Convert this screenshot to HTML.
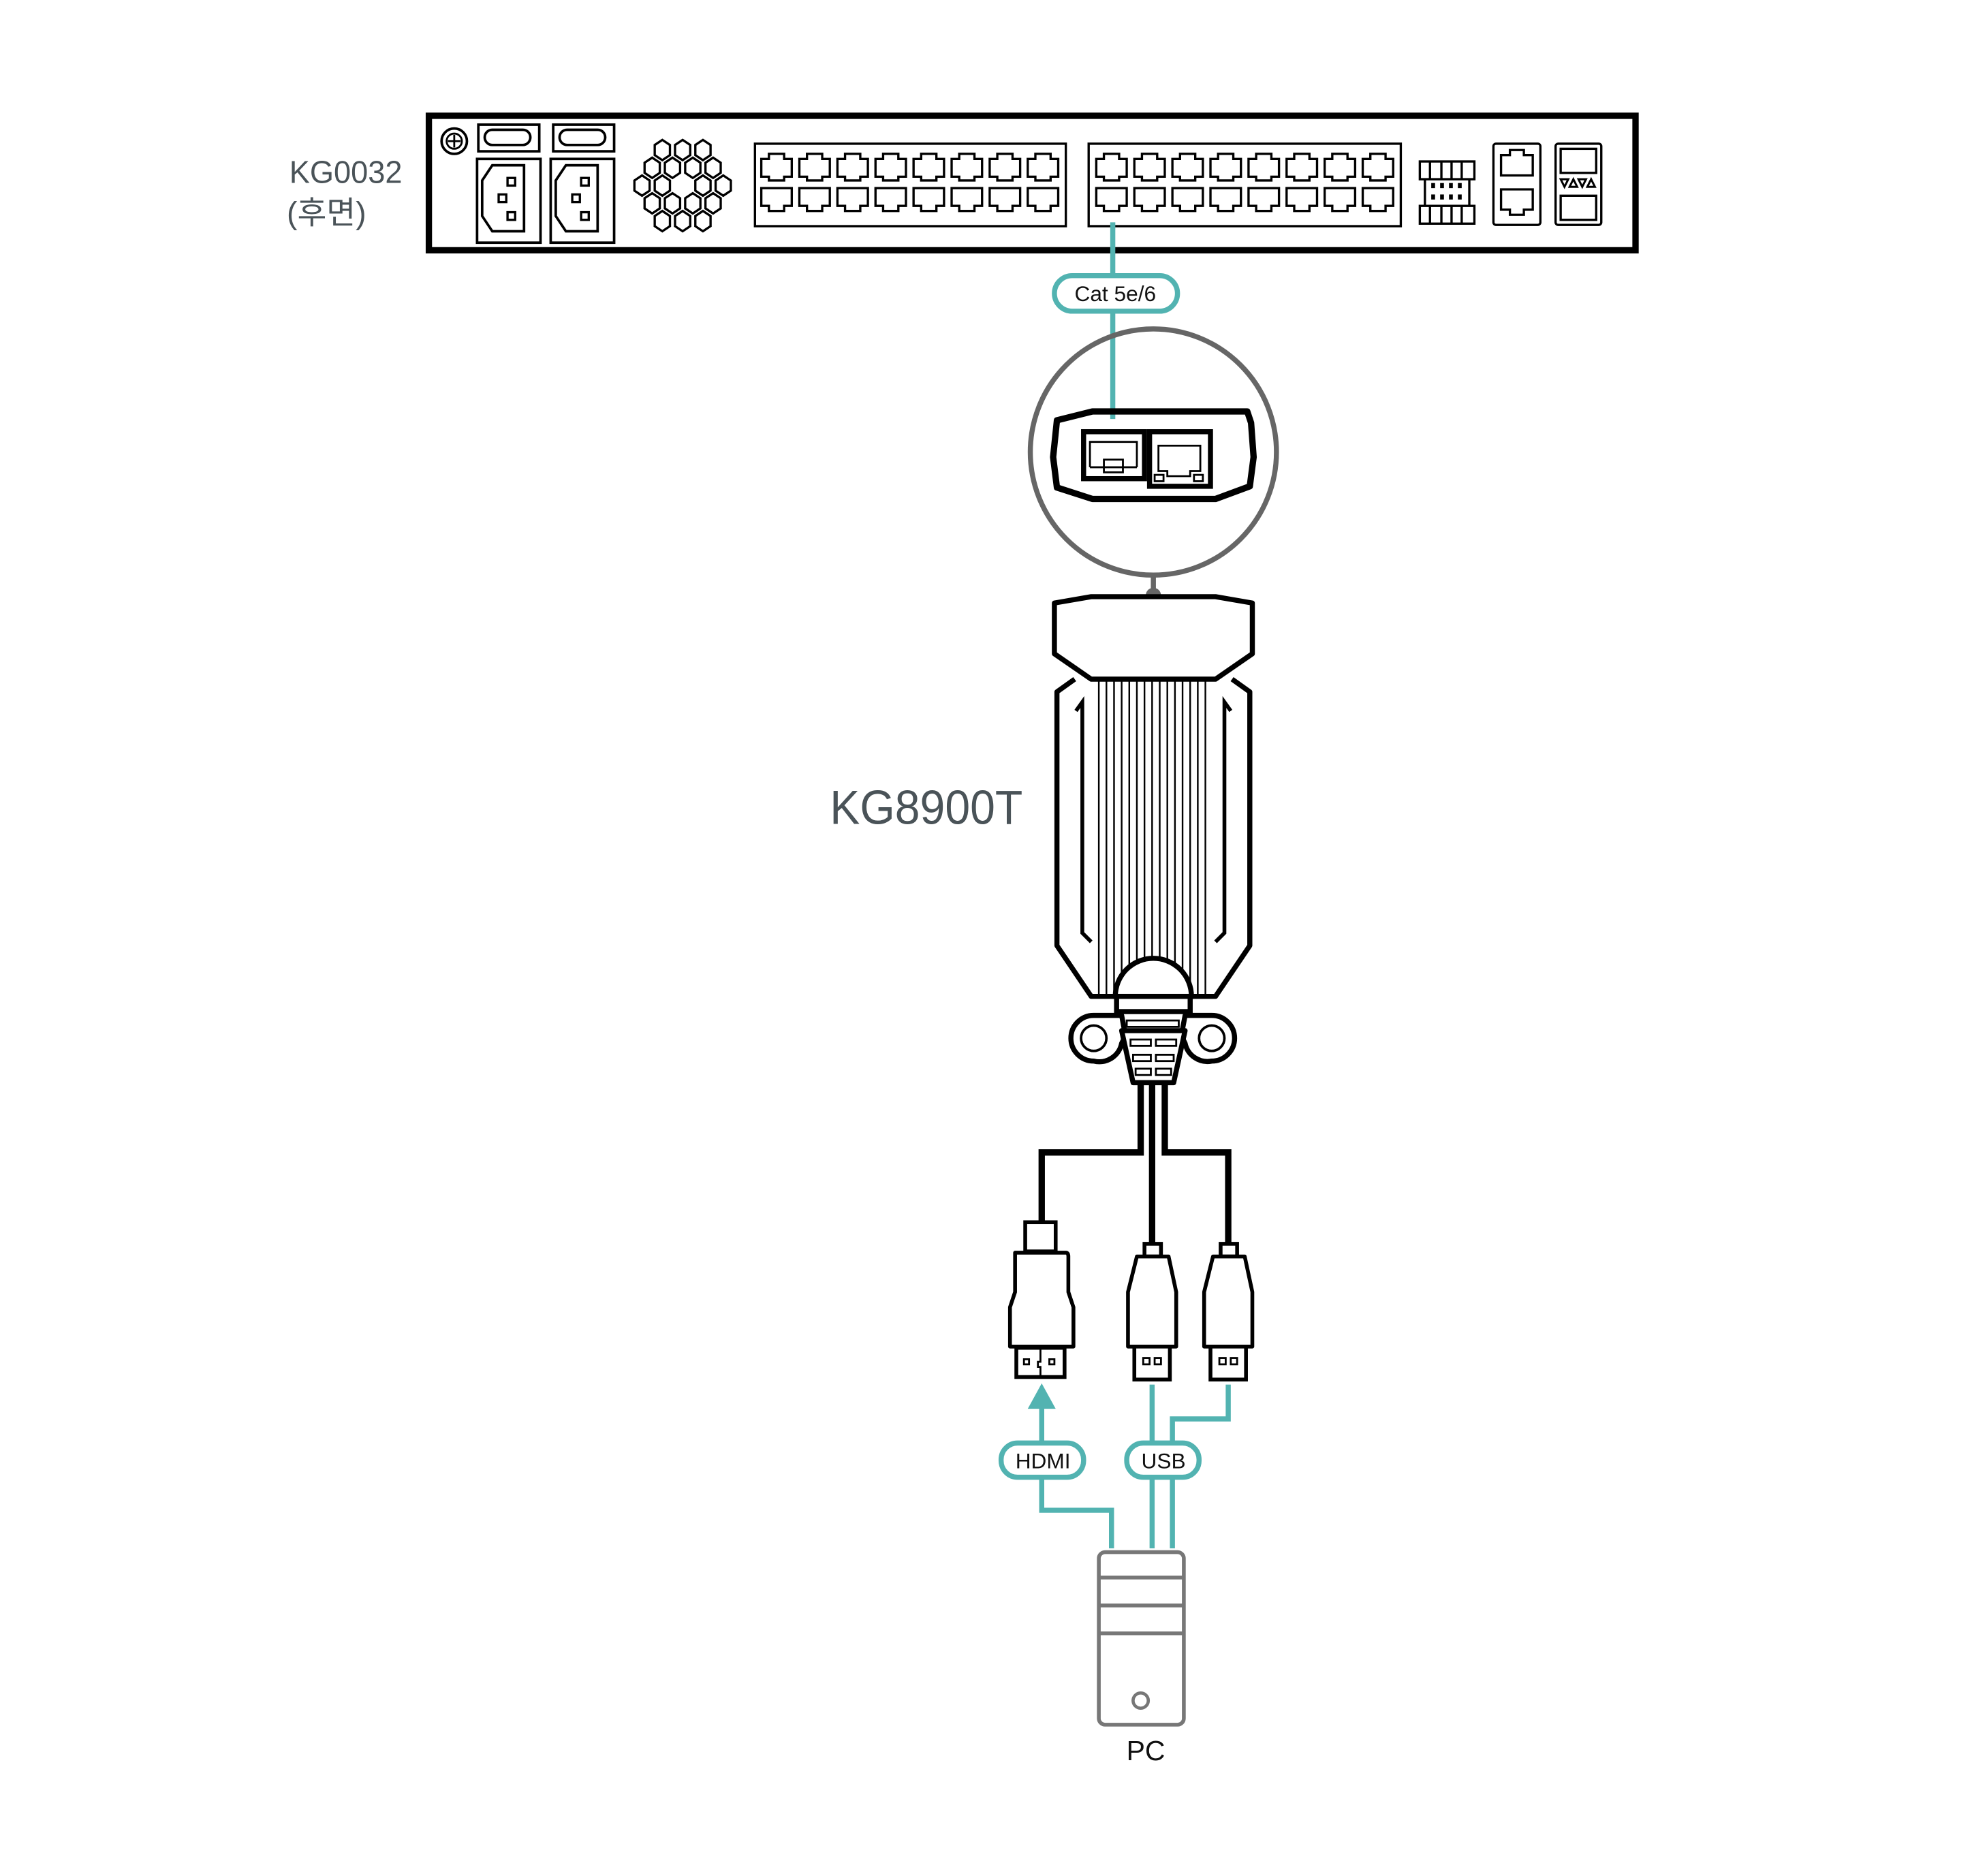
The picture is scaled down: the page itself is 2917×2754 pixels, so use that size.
<!DOCTYPE html>
<html><head><meta charset="utf-8"><style>
html,body{margin:0;padding:0;background:#fff;}
svg{display:block;}
text{font-family:"Liberation Sans","Noto Sans CJK KR",sans-serif;}
</style></head><body>
<svg width="2917" height="2754" viewBox="0 0 1566 1478" xmlns="http://www.w3.org/2000/svg">
<defs>
<path id="pt" d="M2 5 h6 v-4 h12 v4 h6 v14 h-6 v3 h-12 v-3 h-6 z" fill="none" stroke="#000" stroke-width="1.8"/>
<path id="pb" d="M2 1 h24 v14 h-6 v4 h-12 v-4 h-6 z" fill="none" stroke="#000" stroke-width="1.8"/>
<path id="hx" d="M0 -8 l6 4 v8 l-6 4 l-6 -4 v-8 z" fill="none" stroke="#000" stroke-width="1.8"/>
</defs>
<rect width="1566" height="1478" fill="#fff"/>
<!-- rack -->
<rect x="338" y="91" width="951" height="106" fill="#fff" stroke="#000" stroke-width="5"/>
<text x="228" y="144" font-size="25" fill="#4a5358" textLength="89" lengthAdjust="spacingAndGlyphs">KG0032</text>
<text x="226" y="176" font-size="25" fill="#4a5358">(후면)</text>
<circle cx="358" cy="111" r="10" fill="none" stroke="#000" stroke-width="2"/>
<circle cx="358" cy="111" r="6" fill="none" stroke="#000" stroke-width="1.5"/>
<path d="M358 106v10M353 111h10" stroke="#000" stroke-width="1.5"/>
<rect x="377" y="98" width="48" height="21" fill="none" stroke="#000" stroke-width="2"/>
<rect x="382" y="102" width="36" height="12" rx="6" fill="none" stroke="#000" stroke-width="2"/>
<rect x="436" y="98" width="48" height="21" fill="none" stroke="#000" stroke-width="2"/>
<rect x="441" y="102" width="36" height="12" rx="6" fill="none" stroke="#000" stroke-width="2"/>
<rect x="376" y="125" width="50" height="66" fill="none" stroke="#000" stroke-width="2"/>
<path d="M388 130h25v52h-25l-8-12v-28z" fill="none" stroke="#000" stroke-width="2"/>
<rect x="400" y="140" width="6" height="6" fill="none" stroke="#000" stroke-width="1.8"/>
<rect x="393" y="153" width="6" height="6" fill="none" stroke="#000" stroke-width="1.8"/>
<rect x="400" y="167" width="6" height="6" fill="none" stroke="#000" stroke-width="1.8"/>
<rect x="434" y="125" width="50" height="66" fill="none" stroke="#000" stroke-width="2"/>
<path d="M446 130h25v52h-25l-8-12v-28z" fill="none" stroke="#000" stroke-width="2"/>
<rect x="458" y="140" width="6" height="6" fill="none" stroke="#000" stroke-width="1.8"/>
<rect x="451" y="153" width="6" height="6" fill="none" stroke="#000" stroke-width="1.8"/>
<rect x="458" y="167" width="6" height="6" fill="none" stroke="#000" stroke-width="1.8"/>
<!-- hex fan -->
<use href="#hx" x="522" y="118"/><use href="#hx" x="538" y="118"/><use href="#hx" x="554" y="118"/>
<use href="#hx" x="514" y="132"/><use href="#hx" x="530" y="132"/><use href="#hx" x="546" y="132"/><use href="#hx" x="562" y="132"/>
<use href="#hx" x="506" y="146"/><use href="#hx" x="522" y="146"/><use href="#hx" x="554" y="146"/><use href="#hx" x="570" y="146"/>
<use href="#hx" x="514" y="160"/><use href="#hx" x="530" y="160"/><use href="#hx" x="546" y="160"/><use href="#hx" x="562" y="160"/>
<use href="#hx" x="522" y="174"/><use href="#hx" x="538" y="174"/><use href="#hx" x="554" y="174"/>
<!-- port blocks -->
<rect x="595" y="113" width="245" height="65" fill="none" stroke="#000" stroke-width="1.8"/>
<rect x="858" y="113" width="246" height="65" fill="none" stroke="#000" stroke-width="1.8"/>
<g>
<use href="#pt" x="598" y="120"/><use href="#pt" x="628" y="120"/><use href="#pt" x="658" y="120"/><use href="#pt" x="688" y="120"/><use href="#pt" x="718" y="120"/><use href="#pt" x="748" y="120"/><use href="#pt" x="778" y="120"/><use href="#pt" x="808" y="120"/>
<use href="#pb" x="598" y="147"/><use href="#pb" x="628" y="147"/><use href="#pb" x="658" y="147"/><use href="#pb" x="688" y="147"/><use href="#pb" x="718" y="147"/><use href="#pb" x="748" y="147"/><use href="#pb" x="778" y="147"/><use href="#pb" x="808" y="147"/>
<use href="#pt" x="862" y="120"/><use href="#pt" x="892" y="120"/><use href="#pt" x="922" y="120"/><use href="#pt" x="952" y="120"/><use href="#pt" x="982" y="120"/><use href="#pt" x="1012" y="120"/><use href="#pt" x="1042" y="120"/><use href="#pt" x="1072" y="120"/>
<use href="#pb" x="862" y="147"/><use href="#pb" x="892" y="147"/><use href="#pb" x="922" y="147"/><use href="#pb" x="952" y="147"/><use href="#pb" x="982" y="147"/><use href="#pb" x="1012" y="147"/><use href="#pb" x="1042" y="147"/><use href="#pb" x="1072" y="147"/>
</g>
<!-- terminal block -->
<g fill="none" stroke="#000" stroke-width="1.8">
<rect x="1119" y="127" width="43" height="14"/><rect x="1119" y="162" width="43" height="14"/>
<path d="M1123 141v21M1158 141v21"/>
<path d="M1127 127v14M1136 127v14M1144 127v14M1152 127v14M1127 162v14M1136 162v14M1144 162v14M1152 162v14"/>
</g>
<g fill="#000"><rect x="1128" y="144" width="3" height="4"/><rect x="1135" y="144" width="3" height="4"/><rect x="1142" y="144" width="3" height="4"/><rect x="1149" y="144" width="3" height="4"/>
<rect x="1128" y="153" width="3" height="4"/><rect x="1135" y="153" width="3" height="4"/><rect x="1142" y="153" width="3" height="4"/><rect x="1149" y="153" width="3" height="4"/></g>
<rect x="1177" y="113" width="37" height="64" rx="2" fill="none" stroke="#000" stroke-width="1.8"/>
<path d="M1183 122h7v-4h11v4h7v16h-25z" fill="none" stroke="#000" stroke-width="1.8"/>
<path d="M1183 149h25v16h-7v4h-11v-4h-7z" fill="none" stroke="#000" stroke-width="1.8"/>
<rect x="1226" y="113" width="36" height="64" rx="2" fill="none" stroke="#000" stroke-width="1.8"/>
<rect x="1230" y="117" width="28" height="19" fill="none" stroke="#000" stroke-width="1.8"/>
<rect x="1230" y="154" width="28" height="19" fill="none" stroke="#000" stroke-width="1.8"/>
<g fill="none" stroke="#000" stroke-width="1.6">
<path d="M1230 141h6l-3 6zM1237 147h6l-3-6zM1244 141h6l-3 6zM1251 147h6l-3-6z"/>
</g>
<!-- Cat cable -->
<path d="M877 175V330" stroke="#52b3b1" stroke-width="4" fill="none"/>
<rect x="831" y="217" width="97" height="28" rx="14" fill="#fff" stroke="#52b3b1" stroke-width="4"/>
<text x="879" y="237" font-size="17" text-anchor="middle" fill="#111">Cat 5e/6</text>
<!-- magnifier -->
<circle cx="909" cy="356" r="97" fill="none" stroke="#666" stroke-width="4"/>
<path d="M909 452v16" stroke="#666" stroke-width="4"/>
<circle cx="909" cy="469" r="6" fill="#666"/>
<path d="M833 331 L861 324 L983 324 L986 333 L988 360 L985 383 L958 393 L861 393 L833 384 L830 360 Z" fill="none" stroke="#000" stroke-width="5" stroke-linejoin="round"/>
<rect x="854" y="340" width="48" height="37" fill="none" stroke="#000" stroke-width="4"/>
<path d="M859 368v-20h37v20M859 368h37" fill="none" stroke="#000" stroke-width="1.5"/>
<rect x="870" y="362" width="15" height="10" fill="none" stroke="#000" stroke-width="1.5"/>
<rect x="906" y="340" width="48" height="43" fill="none" stroke="#000" stroke-width="4"/>
<path d="M913 371v-20h33v20h-8v4h-18v-4z" fill="none" stroke="#000" stroke-width="1.5"/>
<rect x="910" y="374" width="7" height="5" fill="none" stroke="#000" stroke-width="1.5"/>
<rect x="941" y="374" width="7" height="5" fill="none" stroke="#000" stroke-width="1.5"/>
<!-- KG8900T device -->
<text x="654" y="649" font-size="38" fill="#4a5358" textLength="152" lengthAdjust="spacingAndGlyphs">KG8900T</text>
<path d="M831 475L860 470H958L987 475V515L958 535H860L831 515Z" fill="#fff" stroke="#000" stroke-width="4" stroke-linejoin="round"/>
<g stroke="#000" stroke-width="1.3">
<path d="M866 535V785M872 535V785M878 535V785M884 535V785M890 535V785M896 535V785M902 535V785M908 535V785M914 535V785M920 535V785M926 535V785M932 535V785M938 535V785M944 535V785M950 535V785"/>
</g>
<path d="M847 535L833 545V745L860 785H958L985 745V545L971 535" fill="none" stroke="#000" stroke-width="4" stroke-linejoin="round"/>
<path d="M848 560L853 553V735L860 742" fill="none" stroke="#000" stroke-width="3"/>
<path d="M970 560L965 553V735L958 742" fill="none" stroke="#000" stroke-width="3"/>
<path d="M879 785A30 30 0 0 1 939 785Z" fill="#fff" stroke="#000" stroke-width="4"/>
<rect x="880" y="785" width="58" height="12" fill="#fff" stroke="#000" stroke-width="4"/>
<path d="M884 800H862A18 18 0 0 0 862 836A18 18 0 0 0 884 822L887 816ZM934 800H955A18 18 0 0 1 955 836A18 18 0 0 1 934 822L931 816Z" fill="#fff" stroke="#000" stroke-width="4" stroke-linejoin="round"/>
<circle cx="862" cy="818" r="10" fill="none" stroke="#000" stroke-width="2"/>
<circle cx="955" cy="818" r="10" fill="none" stroke="#000" stroke-width="2"/>
<path d="M884 812H934L925 853H893Z" fill="#fff" stroke="#000" stroke-width="4" stroke-linejoin="round"/>
<rect x="888" y="804" width="41" height="5" fill="none" stroke="#000" stroke-width="1.5"/>
<g fill="none" stroke="#000" stroke-width="1.5"><rect x="891" y="819" width="16" height="5"/><rect x="911" y="819" width="16" height="5"/><rect x="893" y="831" width="14" height="5"/><rect x="911" y="831" width="14" height="5"/><rect x="895" y="842" width="12" height="5"/><rect x="911" y="842" width="12" height="5"/></g>
<!-- cables -->
<path d="M899 853V908H821V963" fill="none" stroke="#000" stroke-width="5"/>
<path d="M908 853V980" fill="none" stroke="#000" stroke-width="5"/>
<path d="M918 853V908H968V980" fill="none" stroke="#000" stroke-width="5"/>
<!-- HDMI connector -->
<rect x="808" y="963" width="24" height="23" fill="#fff" stroke="#000" stroke-width="3"/>
<path d="M800 987H840Q842 987 842 990V1018L846 1030V1061H796V1030L800 1018Z" fill="#fff" stroke="#000" stroke-width="3" stroke-linejoin="round"/>
<rect x="801" y="1062" width="38" height="23" fill="#fff" stroke="#000" stroke-width="3"/>
<path d="M820 1062V1073h-2v4h2v8" fill="none" stroke="#000" stroke-width="1.5"/>
<rect x="807" y="1071" width="4" height="4" fill="none" stroke="#000" stroke-width="1.5"/>
<rect x="827" y="1071" width="4" height="4" fill="none" stroke="#000" stroke-width="1.5"/>
<!-- USB connectors -->
<g id="usb">
<rect x="902" y="980" width="13" height="10" fill="#fff" stroke="#000" stroke-width="3"/>
<path d="M896 990H921L927 1018V1061H889V1018Z" fill="#fff" stroke="#000" stroke-width="3" stroke-linejoin="round"/>
<rect x="894" y="1061" width="28" height="26" fill="#fff" stroke="#000" stroke-width="3"/>
<rect x="901" y="1070" width="5" height="5" fill="none" stroke="#000" stroke-width="1.5"/>
<rect x="910" y="1070" width="5" height="5" fill="none" stroke="#000" stroke-width="1.5"/>
</g>
<use href="#usb" x="60" y="0"/>
<!-- teal connectors -->
<g fill="none" stroke="#52b3b1" stroke-width="4">
<path d="M821 1105V1190H876V1220"/>
<path d="M908 1091V1220"/>
<path d="M968 1091V1118H924V1220"/>
</g>
<path d="M821 1090L810 1110H832Z" fill="#52b3b1"/>
<rect x="789" y="1137" width="65" height="27" rx="13" fill="#fff" stroke="#52b3b1" stroke-width="4"/>
<text x="822" y="1157" font-size="17" text-anchor="middle" fill="#111">HDMI</text>
<rect x="888" y="1137" width="57" height="27" rx="13" fill="#fff" stroke="#52b3b1" stroke-width="4"/>
<text x="917" y="1157" font-size="17" text-anchor="middle" fill="#111">USB</text>
<!-- PC -->
<rect x="866" y="1223" width="67" height="136" rx="5" fill="#fff" stroke="#777" stroke-width="3"/>
<path d="M866 1243H933M866 1265H933M866 1287H933" stroke="#777" stroke-width="3"/>
<circle cx="899" cy="1340" r="6" fill="none" stroke="#777" stroke-width="2.5"/>
<text x="903" y="1387" font-size="22" text-anchor="middle" fill="#111">PC</text>
</svg>
</body></html>
